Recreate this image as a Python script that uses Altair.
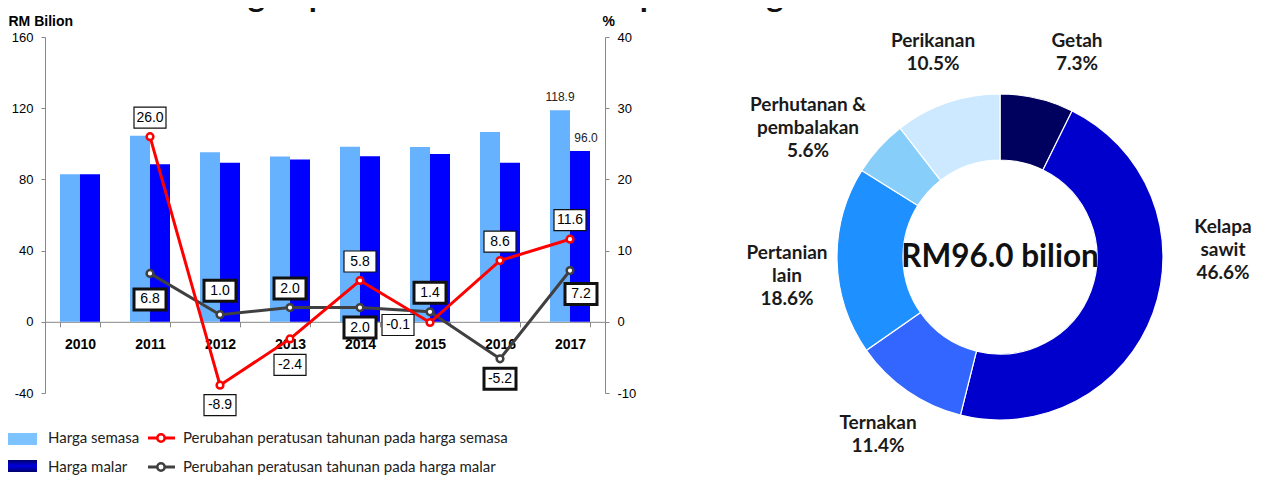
import altair as alt
import pandas as pd

# ---------------- data ----------------
years = ["2010", "2011", "2012", "2013", "2014", "2015", "2016", "2017"]
bar_series = ["Harga semasa", "Harga malar"]
harga_semasa = [82.9, 104.5, 95.2, 92.9, 98.3, 98.2, 106.6, 118.9]
harga_malar = [82.9, 88.5, 89.4, 91.2, 93.0, 94.3, 89.4, 96.0]

line_series = ["Perubahan peratusan tahunan pada harga semasa",
               "Perubahan peratusan tahunan pada harga malar"]
pct_years = ["2011", "2012", "2013", "2014", "2015", "2016", "2017"]
pct_semasa = [26.0, -8.9, -2.4, 5.8, -0.1, 8.6, 11.6]
pct_malar = [6.8, 1.0, 2.0, 2.0, 1.4, -5.2, 7.2]
place_semasa = ["above", "below", "below2", "above", "left", "above", "above"]
place_malar = ["below2", "above2", "above", "below", "above", "below", "belowright"]

sectors = ["Getah", "Kelapa sawit", "Ternakan", "Pertanian lain",
           "Perhutanan & pembalakan", "Perikanan"]
sector_names = ["Getah", "Kelapa\nsawit", "Ternakan", "Pertanian\nlain",
                "Perhutanan &\npembalakan", "Perikanan"]
shares = [7.3, 46.6, 11.4, 18.6, 5.6, 10.5]
sector_colors = ["#00005E", "#0000CC", "#3366FF", "#1E90FF", "#87CEFA", "#CCE9FF"]
total_label = "RM96.0 bilion"
title_text = "sumbangan peratusan tahun 2017 pada harga malar 2010"

# ---------------- tables ----------------
bars_df = pd.DataFrame({
    "year": years * 2,
    "series": [bar_series[0]] * len(years) + [bar_series[1]] * len(years),
    "value": harga_semasa + harga_malar,
})
pct_df = pd.DataFrame({
    "year": pct_years * 2,
    "series": [line_series[0]] * len(pct_years) + [line_series[1]] * len(pct_years),
    "pct": pct_semasa + pct_malar,
    "place": place_semasa + place_malar,
})
donut_df = pd.DataFrame({
    "sector": sectors,
    "share": shares,
    "idx": list(range(len(sectors))),
    "label": [f"{n}\n{s:.1f}%" for n, s in zip(sector_names, shares)],
})

W, H = 560, 356
ARIAL = "Liberation Sans"
GOTHIC = "Lato"
HYPHEN_LABEL = "replace(datum.label, '\u2212', '-')"

# ---------------- shared encodings ----------------
x_enc = alt.X("year:N", scale=alt.Scale(domain=years, paddingInner=0.4286, paddingOuter=0.2143),
              axis=alt.Axis(title=None, labelAngle=0, offset=-71.2, tickBand="extent",
                            domainColor="#888888", tickColor="#888888", tickSize=5,
                            labelPadding=11, labelFont=ARIAL, labelFontSize=14,
                            labelFontWeight="bold", labelColor="#000000"))

y_left = alt.Y("value:Q", scale=alt.Scale(domain=[-40, 160], nice=False, zero=False),
               axis=alt.Axis(values=[-40, 0, 40, 80, 120, 160], title="RM Bilion", titleAngle=0,
                             titleX=-37, titleY=-12, titleAlign="left", titleBaseline="alphabetic",
                             titleFont=ARIAL, titleFontSize=14, titleFontWeight="bold",
                             titleColor="#000000", grid=False, domainColor="#888888",
                             tickColor="#888888", tickSize=4, labelPadding=8, labelFont=ARIAL,
                             labelFontSize=13, labelColor="#000000", labelExpr=HYPHEN_LABEL))

y_right = alt.Y("pct:Q", scale=alt.Scale(domain=[-10, 40], nice=False, zero=False),
                axis=alt.Axis(orient="right", values=[-10, 0, 10, 20, 30, 40], title="%", titleAngle=0,
                              titleX=-3, titleY=-12, titleAlign="left", titleBaseline="alphabetic",
                              titleFont=ARIAL, titleFontSize=14, titleFontWeight="bold",
                              titleColor="#000000", grid=False, domainColor="#888888",
                              tickColor="#888888", tickSize=4, labelPadding=8, labelFont=ARIAL,
                              labelFontSize=13, labelColor="#000000", labelExpr=HYPHEN_LABEL))

# ---------------- bars ----------------
bar_color = alt.Color("series:N", scale=alt.Scale(domain=bar_series, range=["#66B2FF", "#0000FF"]),
                      legend=None)
x_off = alt.XOffset("series:N", scale=alt.Scale(domain=bar_series))
bars = alt.Chart(bars_df).mark_bar().encode(x=x_enc, xOffset=x_off, y=y_left, color=bar_color)
bar_label_marks = []
for name, ddx in zip(bar_series, [0, 6]):
    bar_label_marks.append(
        alt.Chart(bars_df).transform_filter(
            (alt.datum.year == "2017") & (alt.datum.series == name)
        ).mark_text(dx=ddx, dy=-9, baseline="alphabetic", font=ARIAL, fontSize=12, color="#222222"
        ).encode(x=x_enc, xOffset=x_off, y=y_left, text=alt.Text("value:Q", format=".1f")))
bars_layer = alt.layer(bars, *bar_label_marks)

# ---------------- lines ----------------
line_colors = ["#FF0000", "#404040"]
stroke_enc = alt.Stroke("series:N", scale=alt.Scale(domain=line_series, range=line_colors), legend=None)

def series_line(name):
    d = alt.Chart(pct_df).transform_filter(alt.datum.series == name)
    ln = d.mark_line(strokeWidth=3).encode(x=x_enc, y=y_right, stroke=stroke_enc)
    pt = d.mark_point(shape="circle", size=45, fill="white", fillOpacity=1, opacity=1,
                      strokeWidth=2.5).encode(x=x_enc, y=y_right, stroke=stroke_enc)
    return ln, pt

gray_line, gray_pts = series_line(line_series[1])
red_line, red_pts = series_line(line_series[0])

offsets = {"above": (0, -19), "above2": (0, -24), "below": (0, 20), "below2": (0, 26),
           "left": (-32, 2.5), "belowright": (11, 23.5)}

def box_path(dx, dy, w=32, h=21, u=10.0):
    x0, x1 = (dx - w / 2) / u, (dx + w / 2) / u
    y0, y1 = (dy - h / 2) / u, (dy + h / 2) / u
    return f"M{x0:.2f},{y0:.2f}H{x1:.2f}V{y1:.2f}H{x0:.2f}Z"

sw_enc = alt.StrokeWidth("series:N", scale=alt.Scale(domain=line_series, range=[1.2, 3]), legend=None)
label_marks = []
for place, (dx, dy) in offsets.items():
    d = alt.Chart(pct_df).transform_filter(alt.datum.place == place)
    box = d.mark_point(shape=box_path(dx, dy), size=400, filled=True, fill="white", fillOpacity=1,
                       opacity=1, stroke="#111111", strokeOpacity=1).encode(
        x=x_enc, y=y_right, strokeWidth=sw_enc)
    txt = d.transform_calculate(
        lbl="(datum.pct < 0 ? '-' : '') + format(abs(datum.pct), '.1f')"
    ).mark_text(dx=dx, dy=dy, baseline="middle", align="center", font=ARIAL, fontSize=14,
                color="#000000").encode(x=x_enc, y=y_right, text=alt.Text("lbl:N"))
    label_marks += [box, txt]

lines_layer = alt.layer(gray_line, red_line, gray_pts, red_pts, *label_marks)

# ---------------- donut ----------------
CX, CY = 955, 220
donut = alt.Chart(donut_df).mark_arc(innerRadius=97, outerRadius=163, stroke="white",
                                     strokeWidth=1.2).encode(
    theta=alt.Theta("share:Q", stack=True),
    order=alt.Order("idx:Q"),
    color=alt.Color("sector:N", scale=alt.Scale(domain=sectors, range=sector_colors), legend=None),
    x=alt.value(CX), y=alt.value(CY))

# first-line centre of each label block
label_pos = {"Getah": (1032, 4), "Kelapa sawit": (1178, 190), "Ternakan": (833, 386),
             "Pertanian lain": (742, 216), "Perhutanan & pembalakan": (763, 68),
             "Perikanan": (888, 4)}
donut_labels = []
for s in sectors:
    px, py = label_pos[s]
    donut_labels.append(
        alt.Chart(donut_df).transform_filter(alt.datum.sector == s).mark_text(
            lineBreak="\n", lineHeight=23, align="center", baseline="middle", font=GOTHIC,
            fontSize=19, fontWeight="bold", color="#1a1a1a"
        ).encode(text="label:N", x=alt.value(px), y=alt.value(py)))

center_text = alt.Chart(pd.DataFrame({"t": [total_label]})).mark_text(
    font=GOTHIC, fontSize=31.5, fontWeight="bold", color="#111111", align="center", baseline="middle"
).encode(text="t:N", x=alt.value(CX), y=alt.value(CY + 1))

# ---------------- legend (manual) ----------------
legend_marks = []
one = pd.DataFrame({"k": [0]})
legend_marks.append(alt.Chart(one).mark_rect(fill="#7CC3FF").encode(
    x=alt.value(-37), x2=alt.value(-8), y=alt.value(396), y2=alt.value(408)))
legend_marks.append(alt.Chart(one).mark_rect(
    fill=alt.LinearGradient(gradient="linear", x1=0, x2=0, y1=0, y2=1,
                            stops=[alt.GradientStop(color="#00006A", offset=0),
                                   alt.GradientStop(color="#0000E0", offset=0.5),
                                   alt.GradientStop(color="#00006A", offset=1)])).encode(
    x=alt.value(-37), x2=alt.value(-8), y=alt.value(423), y2=alt.value(435)))
for name, yy in zip(bar_series, [401, 430]):
    legend_marks.append(alt.Chart(pd.DataFrame({"t": [name]})).mark_text(
        align="left", baseline="middle", font=GOTHIC, fontSize=15, color="#222222").encode(
        text="t:N", x=alt.value(3), y=alt.value(yy)))
for name, col, yy in zip(line_series, line_colors, [401, 430]):
    legend_marks.append(alt.Chart(one).mark_rule(stroke=col, strokeWidth=3).encode(
        x=alt.value(103), x2=alt.value(130), y=alt.value(yy)))
    legend_marks.append(alt.Chart(one).mark_point(shape="circle", size=55, fill="white",
                                                  fillOpacity=1, opacity=1, stroke=col,
                                                  strokeWidth=2.5).encode(
        x=alt.value(116), y=alt.value(yy)))
    legend_marks.append(alt.Chart(pd.DataFrame({"t": [name]})).mark_text(
        align="left", baseline="middle", font=GOTHIC, fontSize=15, color="#222222").encode(
        text="t:N", x=alt.value(138), y=alt.value(yy)))

title_mark = alt.Chart(pd.DataFrame({"t": [title_text]})).mark_text(
    align="left", baseline="alphabetic", font=GOTHIC, fontSize=33, fontWeight="bold",
    color="#111111").encode(text="t:N", x=alt.value(88), y=alt.value(-30))

chart = alt.layer(
    bars_layer, lines_layer, donut, *donut_labels, center_text, *legend_marks, title_mark
).resolve_scale(
    y="independent", color="independent"
).properties(
    width=W, height=H,
    autosize=alt.AutoSizeParams(type="none"),
    padding={"left": 37, "top": 29, "right": 662, "bottom": 84},
    background="white",
).configure_view(stroke=None)

chart.save("out.html", embed_options={"renderer": "svg", "actions": False})
